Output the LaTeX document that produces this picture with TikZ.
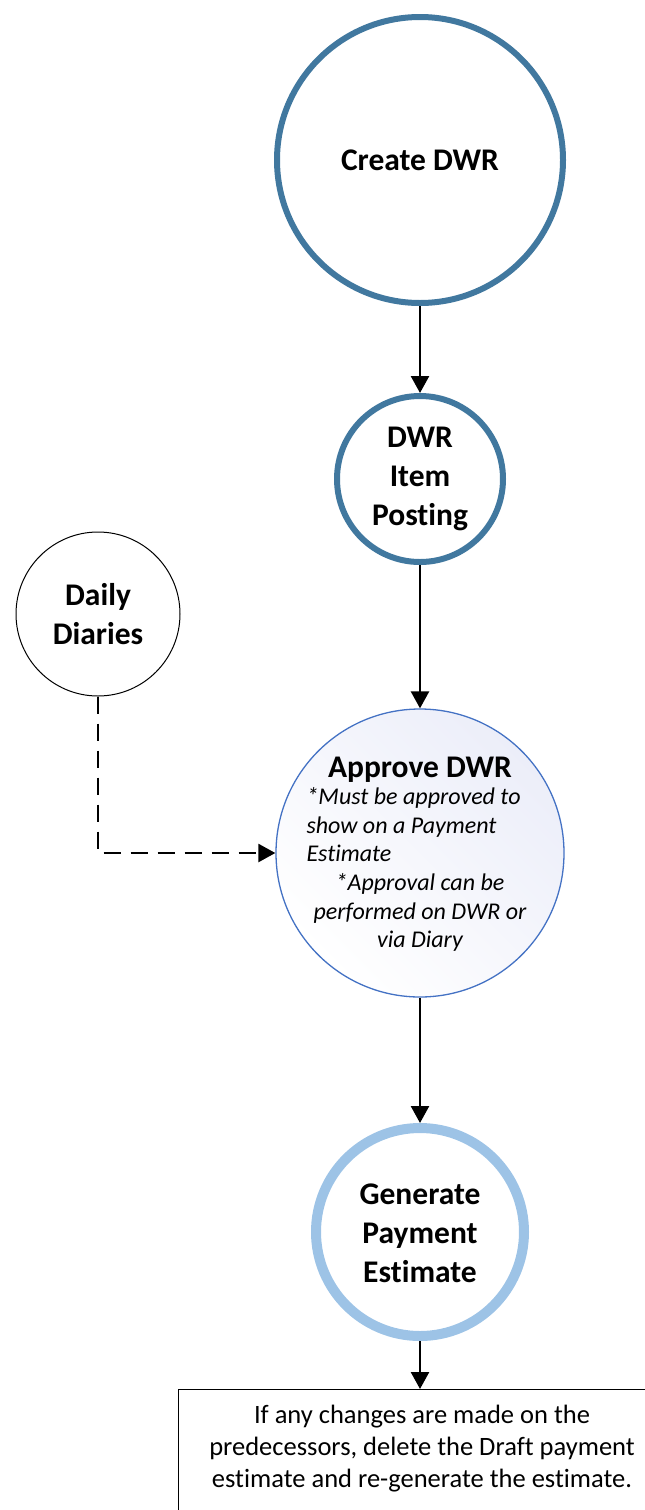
\documentclass[tikz,border=0pt]{standalone}
\usepackage{fontspec}
\setmainfont{Carlito}[Ligatures={NoCommon}]
\usetikzlibrary{arrows.meta,shadings}
\definecolor{steel}{HTML}{41789F}
\definecolor{lightb}{HTML}{9DC3E6}
\definecolor{appb}{HTML}{4472C4}
\definecolor{lav}{HTML}{ECEEF9}
\tikzset{
  circ/.style={circle, inner sep=0pt, draw},
  conn/.style={line width=2.5pt, -{Triangle[width=18pt,length=17pt]}},
  dconn/.style={line width=2.5pt, dash pattern=on 17pt off 10pt, -{Triangle[width=18pt,length=17pt]}},
  btxt/.style={font=\fontsize{31.5}{39}\selectfont\bfseries, align=center},
  itxt/.style={font=\fontsize{24}{28.5}\selectfont\itshape},
  boxtxt/.style={font=\fontsize{26.5}{32}\selectfont, align=center},
}
\begin{document}
\begin{tikzpicture}[x=1pt,y=-1pt]
\useasboundingbox (0,0) rectangle (645,1510);
\node[circ, draw=steel, line width=6pt, minimum size=286pt] (create) at (420,160) {};
\node[btxt] (createtxt) at (420,160) {Create DWR};
\node[circ, draw=steel, line width=6pt, minimum size=166pt] (item) at (420,479) {};
\node[btxt] (itemtxt) at (420,479) {DWR\\Item\\Posting};
\node[circ, draw=black, line width=1pt, minimum size=164pt] (daily) at (98,614) {};
\node[btxt] (dailytxt) at (98,614) {Daily\\Diaries};
\node[circ, draw=appb, line width=1.3pt, minimum size=288pt, shading=axis, top color=lav, bottom color=white, shading angle=-45] (approve) at (420,853) {};
\node[btxt, anchor=base] (approvetxt) at (420,777) {Approve DWR};
\node[itxt, align=left, anchor=north west] (note1) at (303,784) {*Must be approved to\\show on a Payment\\Estimate};
\node[itxt, align=center, anchor=north] (note2) at (420,870) {*Approval can be\\performed on DWR or\\via Diary};
\node[circ, draw=lightb, line width=10pt, minimum size=208pt] (gen) at (420,1232) {};
\node[btxt] (gentxt) at (420,1233) {Generate\\Payment\\Estimate};
\draw[line width=1pt] (178,1520) -- (178,1389) coordinate (boxtl) -- (650,1389) coordinate (boxtr);
\coordinate (boxtop) at (420,1389);
\node[boxtxt] (boxtxt) at (422,1449) {If any changes are made on the\\predecessors, delete the Draft payment\\estimate and re-generate the estimate.};
\draw[conn] (create.south) -- (item.north);
\draw[conn] (item.south) -- (approve.north);
\draw[conn] (approve.south) -- (gen.north);
\draw[conn] (gen.south) -- (boxtop);
\draw[dconn] (daily.south) |- (approve.west);
\end{tikzpicture}
\end{document}
